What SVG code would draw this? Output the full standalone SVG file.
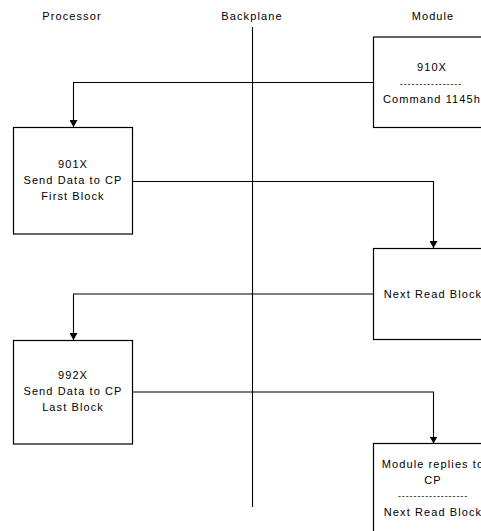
<svg xmlns="http://www.w3.org/2000/svg" width="481" height="531" viewBox="0 0 481 531">
<style>
text{font-family:"Liberation Sans",Arial,sans-serif;font-size:11px;letter-spacing:1.1px;fill:#000;text-anchor:middle}
.box{fill:#fff;stroke:#000;stroke-width:1.2}
.conn{fill:none;stroke:#000;stroke-width:1.1}
</style>
<defs>
<marker id="arr" viewBox="0 0 8 7" refX="4" refY="7" markerWidth="8" markerHeight="7" markerUnits="userSpaceOnUse" orient="auto-start-reverse">
<path d="M0,0 L8,0 L4,7 Z" fill="#000" transform="rotate(-90 4 3.5)"/>
</marker>
<marker id="ad" viewBox="0 0 8 7" refX="4" refY="7" markerWidth="8" markerHeight="7" markerUnits="userSpaceOnUse" orient="0">
<path d="M0,0 L8,0 L4,7 Z" fill="#000"/>
</marker>
</defs>
<rect width="481" height="531" fill="#fff"/>
<g id="headers">
<text x="72" y="20">Processor</text>
<text x="252" y="20">Backplane</text>
<text x="433" y="20">Module</text>
</g>
<g id="connectors">
<line class="conn" x1="252.5" y1="27" x2="252.5" y2="507"/>
<polyline class="conn" points="373,82.5 73.5,82.5 73.5,127" marker-end="url(#ad)"/>
<polyline class="conn" points="133,181.5 433.5,181.5 433.5,248" marker-end="url(#ad)"/>
<polyline class="conn" points="373,294 73.5,294 73.5,340" marker-end="url(#ad)"/>
<polyline class="conn" points="133,392 433.5,392 433.5,443.5" marker-end="url(#ad)"/>
</g>
<g id="module-910x">
<rect class="box" x="373.5" y="37" width="120" height="90.5"/>
<text x="432" y="71">910X</text>
<text x="431" y="87" style="font-size:9px;letter-spacing:0.9px">----------------</text>
<text x="432" y="103">Command 1145h</text>
</g>
<g id="proc-901x">
<rect class="box" x="13.5" y="127.5" width="119" height="106.5"/>
<text x="73" y="168">901X</text>
<text x="73" y="184">Send Data to CP</text>
<text x="73" y="200">First Block</text>
</g>
<g id="module-next-read-1">
<rect class="box" x="373.5" y="248.5" width="120" height="91"/>
<text x="433" y="298">Next Read Block</text>
</g>
<g id="proc-992x">
<rect class="box" x="13.5" y="340.5" width="119" height="103.5"/>
<text x="73" y="379">992X</text>
<text x="73" y="395">Send Data to CP</text>
<text x="73" y="411">Last Block</text>
</g>
<g id="module-replies">
<rect class="box" x="373.5" y="443.5" width="120" height="100"/>
<text x="433" y="468">Module replies to</text>
<text x="433" y="484">CP</text>
<text x="433" y="499" style="font-size:9px;letter-spacing:0.9px">------------------</text>
<text x="433" y="516">Next Read Block</text>
</g>
</svg>
